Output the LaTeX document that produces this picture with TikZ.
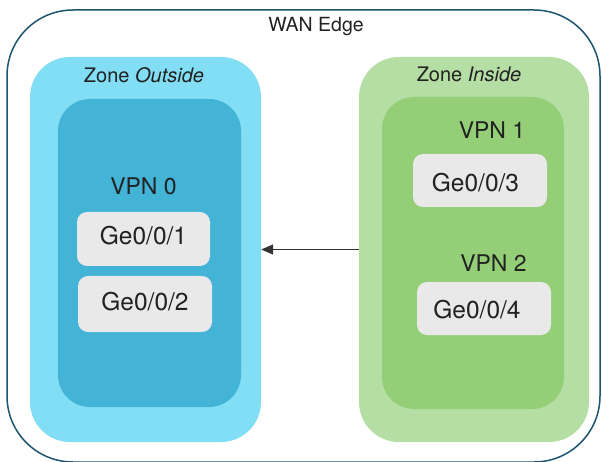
\documentclass[tikz,border=0pt]{standalone}
\usepackage{fontspec}
\setmainfont{TeX Gyre Heros}
\usetikzlibrary{arrows.meta}
\definecolor{edgeline}{HTML}{1D5470}
\definecolor{outsidezone}{HTML}{81DEF4}
\definecolor{outsidevpn}{HTML}{43B3D6}
\definecolor{insidezone}{HTML}{B5DEA5}
\definecolor{insidevpn}{HTML}{94CE77}
\definecolor{portfill}{HTML}{E9E9E9}
\definecolor{ink}{HTML}{222222}
\definecolor{arrowgray}{HTML}{333333}
\tikzset{
  box/.style={draw=none, inner sep=0pt, rectangle},
  zonebox/.style={box, rounded corners=40pt},
  vpnbox/.style={box, rounded corners=32pt},
  portbox/.style={box, fill=portfill, rounded corners=10pt,
    minimum width=133pt, minimum height=54pt},
  porttext/.style={inner sep=0pt, anchor=base, text=ink,
    font=\fontsize{24.5}{28}\selectfont},
  vpntext/.style={inner sep=0pt, anchor=base, text=ink,
    font=\fontsize{23}{27}\selectfont},
  zonetext/.style={inner sep=0pt, anchor=base, text=ink,
    font=\fontsize{20}{24}\selectfont},
  flow/.style={draw=arrowgray, line width=1.5pt,
    -{Triangle[length=12pt,width=10pt]}}
}
\begin{document}
\begin{tikzpicture}[x=1pt,y=-1pt]
\useasboundingbox (0,0) rectangle (602,462);

% WAN Edge frame
\node[box, draw=edgeline, line width=1.5pt, rounded corners=66pt,
  minimum width=593pt, minimum height=452pt] (wan) at (303.5,236) {};
\node[zonetext, font=\fontsize{19.5}{23}\selectfont] (wanlabel) at (316,32) {WAN Edge};

% outside zone
\node[zonebox, fill=outsidezone, minimum width=231pt, minimum height=385pt] (zout) at (145.5,249.5) {};
\node[vpnbox, fill=outsidevpn, minimum width=183pt, minimum height=308pt] (vpn0) at (149.5,253) {};
\node[zonetext] (zoutlabel) at (144,83) {Zone \textit{Outside}};
\node[vpntext] (vpn0label) at (143.5,195) {VPN 0};
\node[portbox] (g1) at (143.5,239) {};
\node[porttext] (g1label) at (143.5,245) {Ge0/0/1};
\node[portbox, minimum width=134pt, minimum height=56pt] (g2) at (145,304) {};
\node[porttext] (g2label) at (145,310) {Ge0/0/2};

% inside zone
\node[zonebox, fill=insidezone, minimum width=230pt, minimum height=385pt] (zin) at (474,249.5) {};
\node[vpnbox, fill=insidevpn, minimum width=182pt, minimum height=312pt] (vpnin) at (473,253) {};
\node[zonetext] (zinlabel) at (469,82) {Zone \textit{Inside}};
\node[vpntext] (vpn1label) at (492,139) {VPN 1};
\node[portbox, minimum width=134pt, minimum height=53pt] (g3) at (480,180.5) {};
\node[porttext] (g3label) at (475.5,192) {Ge0/0/3};
\node[vpntext] (vpn2label) at (493.5,272) {VPN 2};
\node[portbox, minimum width=134pt, minimum height=53pt] (g4) at (484,308.5) {};
\node[porttext] (g4label) at (477,318) {Ge0/0/4};

% traffic direction
\draw[flow] (zin.west) -- (zout.east);
\end{tikzpicture}
\end{document}
